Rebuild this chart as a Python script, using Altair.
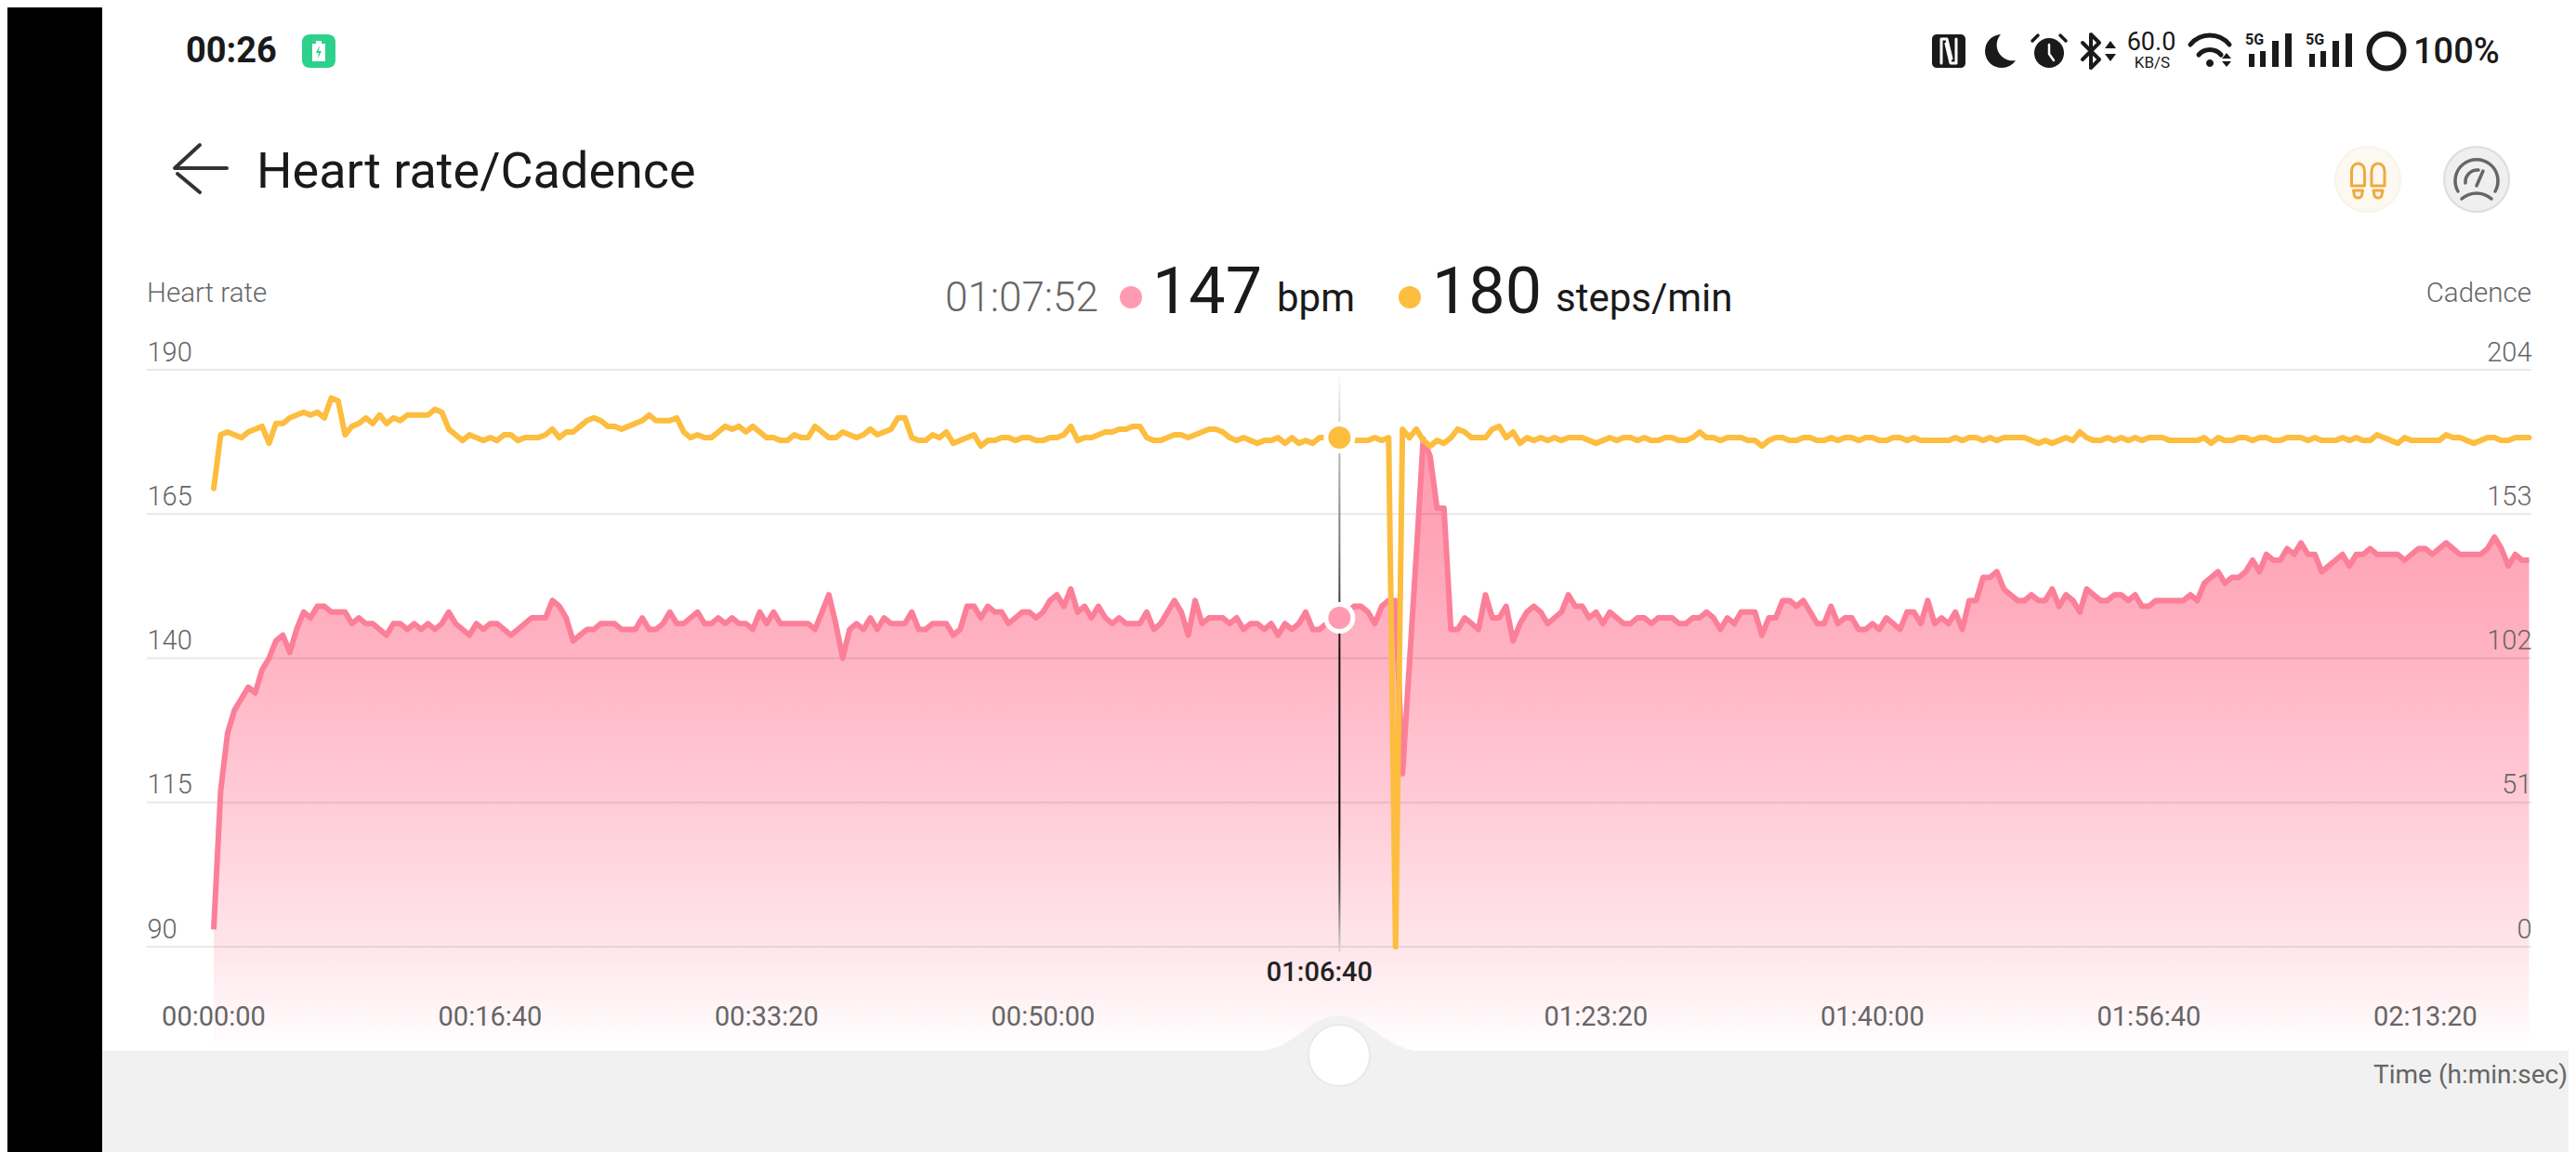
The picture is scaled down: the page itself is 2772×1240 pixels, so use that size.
import altair as alt
import pandas as pd

# ---------- data ----------
SAMPLE_SECONDS = 25
heart_rate = [
    93,117,127,131,133,135,134,138,140,143,
    144,141,145,148,147,149,149,148,148,148,
    146,147,146,146,145,144,146,146,145,146,
    145,146,145,146,148,146,145,144,146,145,
    146,146,145,144,145,146,147,147,147,150,
    149,147,143,144,145,145,146,146,146,145,
    145,145,147,145,145,146,148,146,146,147,
    148,146,146,147,146,147,146,146,145,148,
    146,148,146,146,146,146,146,145,148,151,
    146,140,145,146,145,147,145,147,146,146,
    146,148,145,145,146,146,146,144,145,149,
    149,147,149,148,148,146,147,148,148,147,
    148,150,151,149,152,148,149,147,149,147,
    146,147,146,146,146,148,145,146,148,150,
    148,144,150,146,147,147,147,146,147,145,
    146,146,145,146,144,146,145,146,148,145,
    145,146,147,147,148,149,149,148,146,149,
    150,150,120,139,158,178,175,166,166,145,
    145,147,146,145,151,147,147,149,143,146,
    148,149,148,146,147,148,151,149,149,147,
    148,146,148,147,146,146,147,147,146,147,
    147,147,146,146,147,147,148,147,145,147,
    146,148,148,148,144,147,147,150,150,149,
    150,148,146,146,149,146,147,147,145,145,
    146,145,147,146,145,148,148,146,150,146,
    147,146,148,145,150,150,154,154,155,152,
    151,150,150,151,150,150,152,149,151,
    150,148,152,151,150,150,151,151,150,151,
    149,149,150,150,150,150,150,151,150,153,
    154,155,153,154,154,155,157,155,158,157,
    157,159,158,160,158,158,155,156,157,158,
    156,158,158,159,158,158,158,158,157,158,
    159,159,158,159,160,159,158,158,158,158,
    159,161,159,156,158,157,157,
]
cadence = [
    162,181,182,181,180,182,183,184,178,185,
    185,187,188,189,188,189,187,194,193,181,
    184,185,187,185,188,185,187,186,188,188,
    188,188,190,189,183,181,179,181,180,179,
    180,179,181,181,179,180,180,180,181,183,
    180,182,182,184,186,187,186,184,184,183,
    184,185,186,188,186,186,186,187,182,180,
    181,180,180,182,184,183,184,182,184,182,
    180,180,179,179,181,180,180,184,182,180,
    180,182,181,180,181,183,181,182,183,187,
    187,180,179,179,181,180,182,178,179,180,
    181,177,179,179,180,180,179,180,180,179,
    179,180,180,181,184,179,180,180,181,182,
    182,183,183,184,184,180,179,179,180,181,
    181,180,181,182,183,183,182,180,179,180,
    179,178,179,179,180,178,180,178,179,178,
    180,180,180,180,180,179,179,179,180,179,
    180,0,183,180,183,179,177,179,178,180,
    183,182,180,180,180,183,184,180,182,178,
    180,179,180,179,180,179,180,180,180,179,
    178,179,180,179,180,180,179,180,179,179,
    180,180,179,179,180,182,180,180,179,180,
    180,180,179,179,177,179,180,180,179,179,
    180,180,179,179,180,179,180,180,179,180,
    180,179,179,180,180,179,180,179,179,179,
    179,179,180,179,180,180,179,180,179,180,
    180,180,180,179,178,179,178,179,180,179,
    182,180,179,179,180,179,180,179,180,179,
    180,180,180,179,179,179,179,179,180,178,
    180,179,179,180,180,179,180,180,179,179,
    180,180,180,179,180,179,179,179,180,179,
    180,179,179,181,180,179,178,180,179,179,
    179,179,179,181,180,180,179,178,179,180,
    180,179,179,180,180,180,
]
hr_ticks = [90, 115, 140, 165, 190]
cadence_ticks = [0, 51, 102, 153, 204]
time_ticks = [0, 1000, 2000, 3000, 5000, 6000, 7000, 8000]
time_labels = ["00:00:00", "00:16:40", "00:33:20", "00:50:00",
               "01:23:20", "01:40:00", "01:56:40", "02:13:20"]
active_tick = 4000
active_tick_label = "01:06:40"
cursor_time = 4072
cursor_label = "01:07:52"
cursor_hr = 147
cursor_cadence = 180
area_floor = 72

series = pd.DataFrame({
    "t": [i * SAMPLE_SECONDS for i in range(len(heart_rate))],
    "hr": heart_rate,
    "cadence": cadence[:len(heart_rate)],
})
ticks_df = pd.DataFrame({"t": time_ticks, "label": time_labels})
one = pd.DataFrame({"k": [0]})

# ---------- styling and layout ----------
W, H = 2490, 621
OX, OY = 230, 398          # plot origin in page pixels
TOTAL_W, TOTAL_H = 2756, 1232
PINK_LINE = "#fb7f98"
PINK = "#ff9bb0"
YELLOW = "#fdbd3e"
GREY = "#666666"
DARK = "#1a1a1a"
FONT = "Roboto"

x_scale = alt.Scale(domain=[0, 8370], nice=False, zero=False)
hr_scale = alt.Scale(domain=[90, 190], nice=False, zero=False)
cad_scale = alt.Scale(domain=[0, 204], nice=False, zero=False)


def X(px):
    return alt.value(px - OX)


def Y(py):
    return alt.value(py - OY)


def rect(x0, x1, y0, y1, color, radius=0):
    return alt.Chart(one).mark_rect(color=color, opacity=1, cornerRadius=radius).encode(
        x=X(x0), x2=X(x1), y=Y(y0), y2=Y(y1))


def txt(s, x, y, size, color=GREY, align="left", weight=400):
    return alt.Chart(one).mark_text(
        text=s, align=align, baseline="middle", font=FONT, fontSize=size,
        fontWeight=weight, color=color).encode(x=X(x), y=Y(y))


def icon(cx, cy, path, fill=None, stroke=None, sw=None):
    kw = dict(shape=path, size=4, opacity=1, strokeCap="round", strokeJoin="round")
    if fill is not None:
        kw.update(filled=True, fill=fill)
    else:
        kw.update(filled=False)
    if stroke is not None:
        kw.update(stroke=stroke, strokeWidth=sw)
    return alt.Chart(one).mark_point(**kw).encode(x=X(cx), y=Y(cy))


def disc(cx, cy, r, fill=None, stroke=None, sw=None):
    kw = dict(shape="circle", size=(2 * r) ** 2, opacity=1)
    if fill is not None:
        kw.update(filled=True, fill=fill)
    else:
        kw.update(filled=False)
    if stroke is not None:
        kw.update(stroke=stroke, strokeWidth=sw)
    return alt.Chart(one).mark_point(**kw).encode(x=X(cx), y=Y(cy))


def signal(dx):
    return [
        rect(2420 + dx, 2426 + dx, 58, 72, DARK),
        rect(2432 + dx, 2438 + dx, 55, 72, DARK),
        rect(2445 + dx, 2452 + dx, 44, 72, DARK),
        rect(2459 + dx, 2466 + dx, 36, 72, DARK),
        txt("5G", 2416 + dx, 43, 16, DARK, weight=700),
    ]


# ---------- chrome behind the plot ----------
chrome_back = [
    rect(8, 110, 8, 8 + TOTAL_H, "#000000"),
]

area_fill = alt.LinearGradient(
    gradient="linear", x1=0, x2=0, y1=0, y2=1,
    stops=[
        alt.GradientStop(offset=0.0, color="#ff9bb0"),
        alt.GradientStop(offset=0.19, color="#fea6b8"),
        alt.GradientStop(offset=0.36, color="#ffb4c3"),
        alt.GradientStop(offset=0.59, color="#ffcbd6"),
        alt.GradientStop(offset=0.83, color="#ffe5ea"),
        alt.GradientStop(offset=1.0, color="#ffffff"),
    ])
cursor_fill = alt.LinearGradient(
    gradient="linear", x1=0, x2=0, y1=0, y2=1,
    stops=[
        alt.GradientStop(offset=0.0, color="#ffffff"),
        alt.GradientStop(offset=0.13, color="#bbbbbb"),
        alt.GradientStop(offset=0.30, color="#777777"),
        alt.GradientStop(offset=0.48, color="#111111"),
        alt.GradientStop(offset=0.78, color="#000000"),
        alt.GradientStop(offset=0.90, color="#555555"),
        alt.GradientStop(offset=1.0, color="#dddddd"),
    ])

area = alt.Chart(series).mark_area(fill=area_fill, opacity=1, line=False).encode(
    x=alt.X("t:Q", scale=x_scale, axis=None),
    y=alt.Y("hr:Q", scale=hr_scale, axis=None),
    y2=alt.Y2(datum=area_floor),
)

grid = alt.Chart(pd.DataFrame({"v": hr_ticks})).mark_rule(
    color="#000000", opacity=0.09, strokeWidth=2).encode(
    x=X(158), x2=X(2724),
    y=alt.Y("v:Q", scale=hr_scale, axis=alt.Axis(
        orient="left", values=hr_ticks, domain=False, ticks=False, tickSize=0, grid=False,
        title=None, labelAlign="left", labelPadding=72, labelBaseline="alphabetic",
        labelOffset=-10, labelFont=FONT, labelFontSize=29, labelFontWeight=300,
        labelColor=GREY, labelOverlap=False, labelFlush=False, zindex=1)),
)

time_axis_labels = alt.Chart(ticks_df).mark_text(
    align="center", baseline="middle", font=FONT, fontSize=29, color=GREY).encode(
    x=alt.X("t:Q", scale=x_scale, axis=None), y=Y(1095), text="label:N")

cursor = alt.Chart(one).mark_rect(width=2, fill=cursor_fill, opacity=1).encode(
    x=alt.X(datum=cursor_time, scale=x_scale, axis=None), y=Y(400), y2=Y(1025))

hr_line = alt.Chart(series).mark_line(
    color=PINK_LINE, strokeWidth=6, strokeJoin="round").encode(
    x=alt.X("t:Q", scale=x_scale, axis=None),
    y=alt.Y("hr:Q", scale=hr_scale, axis=None),
)
cad_line = alt.Chart(series).mark_line(
    color=YELLOW, strokeWidth=6, strokeJoin="round", strokeCap="round").encode(
    x=alt.X("t:Q", scale=x_scale, axis=None),
    y=alt.Y("cadence:Q", scale=cad_scale, axis=alt.Axis(
        orient="right", values=cadence_ticks, domain=False, ticks=False, tickSize=0, grid=False,
        title=None, labelAlign="right", labelPadding=4, labelBaseline="alphabetic",
        labelOffset=-10, labelFont=FONT, labelFontSize=29, labelFontWeight=300,
        labelColor=GREY, labelOverlap=False, labelFlush=False, zindex=1)),
)

hr_dot = alt.Chart(one).mark_point(
    filled=True, shape="circle", size=841, fill=PINK, stroke="#ffffff", strokeWidth=5, opacity=1
).encode(x=alt.X(datum=cursor_time, scale=x_scale, axis=None),
         y=alt.Y(datum=cursor_hr, scale=hr_scale, axis=None))
cad_dot = alt.Chart(one).mark_point(
    filled=True, shape="circle", size=841, fill=YELLOW, stroke="#ffffff", strokeWidth=5, opacity=1
).encode(x=alt.X(datum=cursor_time, scale=x_scale, axis=None),
         y=alt.Y(datum=cursor_cadence, scale=cad_scale, axis=None))

active_label = alt.Chart(one).mark_text(
    text=active_tick_label, align="center", baseline="middle", font=FONT, fontSize=29,
    fontWeight=500, color="#222222").encode(
    x=alt.X(datum=active_tick, scale=x_scale, axis=None), y=Y(1047))

# ---------- bottom panel ----------
panel = [
    rect(110, 8 + TOTAL_W, 1131, 8 + TOTAL_H, "#f1f1f1"),
    icon(1441, 1131, "M-92,1 C-50,1 -32,-38 0,-38 C32,-38 50,1 92,1 Z", fill="#f1f1f1"),
    disc(1441, 1136, 33, fill="#ffffff", stroke="#e9e9e9", sw=2),
    txt("Time (h:min:sec)", 8 + TOTAL_W - 1, 1158, 28, GREY, "right"),
]

# ---------- header and status bar ----------
header = [
    txt("00:26", 200, 56, 38, DARK, weight=700),
    rect(325, 361, 37, 73, "#2ed18c", radius=8),
    icon(343, 55, "M-7,-8 H-3 V-11 H3 V-8 H7 V11 H-7 Z", fill="#ffffff"),
    icon(343, 56, "M1,-7 L-3,1 H0 L-1,7 L3,-1 H0 Z", fill="#2ed18c"),
    # status icons
    rect(2079, 2115, 37, 73, DARK, radius=5),
    icon(2097, 55, "M-8,13 V-13 H-2 L3,8 M8,-13 V13 H2 L-3,-8", stroke="#ffffff", sw=3),
    icon(2151, 55, "M2,-18 A18,18 0 1 0 18,10 A17,17 0 0 1 2,-18 Z", fill=DARK),
    disc(2205, 57, 16, fill=DARK),
    icon(2205, 57, "M0,-9 V1 L5,8", stroke="#ffffff", sw=2.5),
    icon(2205, 57, "M-18,-13 L-12,-19 M18,-13 L12,-19", stroke=DARK, sw=3.5),
    icon(2250, 55, "M-9,-9 L9,9 L0,18 V-18 L9,-9 L-9,9", stroke=DARK, sw=4),
    icon(2271, 55, "M0,-11 L6,-3 H-6 Z M0,11 L6,3 H-6 Z", fill=DARK),
    txt("60.0", 2315, 46, 27, DARK, "center"),
    txt("KB/S", 2316, 68, 17, DARK, "center"),
    icon(2378, 68, "M-21,-20 A27,27 0 0 1 21,-20 M-12,-9 A16,16 0 0 1 12,-9", stroke=DARK, sw=5),
    icon(2378, 68, "M-4,0 A4,4 0 1 0 4,0 A4,4 0 1 0 -4,0 Z", fill=DARK),
    icon(2396, 64, "M0,-7 L5,-1 H-5 Z M0,8 L5,2 H-5 Z", fill=DARK),
    *signal(0),
    *signal(65),
    disc(2568, 55, 18.5, stroke=DARK, sw=6),
    txt("100%", 2597, 57, 38, DARK, weight=500),
    # title row
    icon(188, 181, "M27,-25 L0,0 H56 M3,6 L27,26", stroke="#333333", sw=4),
    txt("Heart rate/Cadence", 276, 186, 54, DARK),
    disc(2548, 193, 35, fill="#fdf8f0", stroke="#f8f3ea", sw=2),
    icon(2537.5, 194, "M-7,6 V-10 A7,8 0 0 1 7,-10 V6 Z M-5,11 H5 L4,16 A4,3 0 0 1 -4,16 Z",
         stroke="#f0a93f", sw=3),
    icon(2559, 194, "M-7,6 V-10 A7,8 0 0 1 7,-10 V6 Z M-5,11 H5 L4,16 A4,3 0 0 1 -4,16 Z",
         stroke="#f0a93f", sw=3),
    disc(2665, 193, 35, fill="#efefef", stroke="#dddddd", sw=2),
    icon(2665, 195, "M-20,11 A23,23 0 1 1 20,11 M-12,2 A13,13 0 0 1 2,-12 M0,5 L7,-11 "
                    "M-16,19 A24,24 0 0 1 16,19", stroke="#666666", sw=3.5),
    # read-out row
    txt("Heart rate", 158, 316, 29.5, GREY, weight=300),
    txt("Cadence", 2724, 316, 29.5, GREY, "right", weight=300),
    txt(cursor_label, 1017, 322, 44, GREY, weight=300),
    disc(1217, 320, 12, fill=PINK),
    txt(str(cursor_hr), 1240, 316, 70, DARK),
    txt("bpm", 1374, 322, 42, DARK),
    disc(1517, 320, 12, fill=YELLOW),
    txt(str(cursor_cadence), 1541, 316, 70, DARK),
    txt("steps/min", 1674, 322, 42, DARK),
]

chart = alt.layer(
    *chrome_back, area, *panel, grid, time_axis_labels, cursor, hr_line, cad_line,
    hr_dot, cad_dot, active_label, *header,
).resolve_scale(y="independent").properties(
    width=W, height=H,
    padding={"left": OX - 8, "top": OY - 8, "right": TOTAL_W - (OX - 8) - W,
             "bottom": TOTAL_H - (OY - 8) - H},
    autosize=alt.AutoSizeParams(type="none"),
    background="#ffffff",
).configure_view(stroke=None)

chart.save("out.html", embed_options={"renderer": "svg", "actions": False})
